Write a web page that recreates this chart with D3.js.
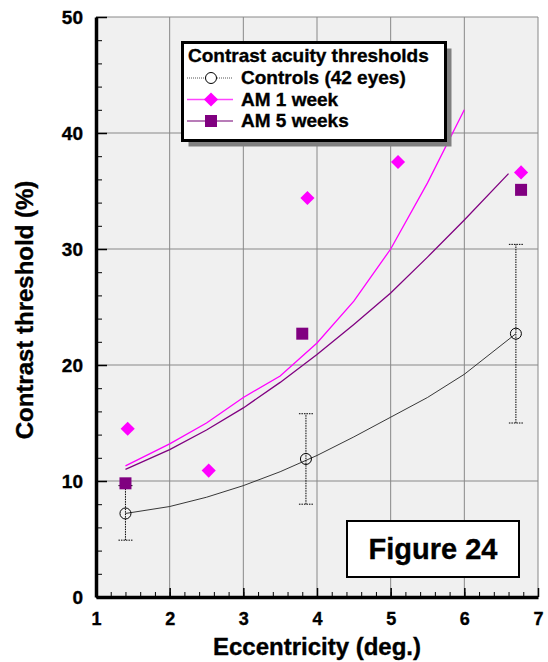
<!DOCTYPE html>
<html>
<head>
<meta charset="utf-8">
<script src="https://cdn.jsdelivr.net/npm/d3@7"></script>
<style>
body { margin: 0; background: #fff; }
text { font-family: "Liberation Sans", Arial, sans-serif; font-weight: bold; stroke: #000; stroke-width: 0.35px; }
</style>
</head>
<body>
<svg width="548" height="662"></svg>
<script>
// measured points
var ctrlX = [1.4, 3.85, 6.7];
var ctrlY = [7.2, 11.9, 22.7];
var ctrlLo = [4.9, 8.0, 15.0];
var ctrlHi = [9.6, 15.8, 30.4];

var am1X = [1.43, 2.53, 3.87, 5.1, 6.77];
var am1Y = [14.5, 10.9, 34.4, 37.5, 36.6];

var am5X = [1.4, 3.8, 6.77];
var am5Y = [9.8, 22.7, 35.1];

// fitted curves
var ctrlFitX = [1.4, 2, 2.5, 3, 3.5, 4, 4.5, 5, 5.5, 6, 6.7];
var ctrlFitY = [7.2, 7.8, 8.6, 9.6, 10.8, 12.2, 13.8, 15.5, 17.2, 19.2, 22.7];
var am1FitX = [1.4, 2, 2.5, 3, 3.5, 4, 4.5, 5, 5.5, 6];
var am1FitY = [11.3, 13.2, 15.0, 17.2, 19.05, 21.9, 25.5, 30.0, 35.7, 42.0];
var am5FitX = [1.4, 2, 2.5, 3, 3.5, 4, 4.5, 5, 5.5, 6, 6.6];
var am5FitY = [11.0, 12.7, 14.4, 16.3, 18.5, 20.9, 23.5, 26.2, 29.3, 32.5, 36.5];

var legendNames = ["Controls (42 eyes)", "AM 1 week", "AM 5 weeks"];

var svg = d3.select("svg");
var x = d3.scaleLinear().domain([1, 7]).range([96, 538]);
var y = d3.scaleLinear().domain([0, 50]).range([597, 17]);

// plot background
svg.append("rect")
  .attr("x", x(1)).attr("y", y(50))
  .attr("width", x(7) - x(1)).attr("height", y(0) - y(50))
  .attr("fill", "#f0f0f0");

// grid
svg.append("g").selectAll("line")
  .data(d3.range(2, 8))
  .enter().append("line")
  .attr("x1", function(d){ return x(d); })
  .attr("x2", function(d){ return x(d); })
  .attr("y1", y(0)).attr("y2", y(50))
  .attr("stroke", "#888").attr("stroke-width", 1);
svg.append("g").selectAll("line")
  .data(d3.range(10, 60, 10))
  .enter().append("line")
  .attr("y1", function(d){ return y(d); })
  .attr("y2", function(d){ return y(d); })
  .attr("x1", x(1)).attr("x2", x(7))
  .attr("stroke", "#888").attr("stroke-width", 1);

// minor ticks
svg.append("g")
  .attr("transform", "translate(0," + y(0) + ")")
  .call(d3.axisBottom(x).tickValues(d3.range(1, 7.01, 0.2)).tickSize(-5).tickFormat(""))
  .call(function(g){ g.select(".domain").remove(); });
svg.append("g")
  .attr("transform", "translate(" + x(1) + ",0)")
  .call(d3.axisLeft(y).tickValues(d3.range(0, 51, 2)).tickSize(-6).tickFormat(""))
  .call(function(g){ g.select(".domain").remove(); });

// major axes
var xAxis = svg.append("g")
  .attr("transform", "translate(0," + y(0) + ")")
  .call(d3.axisBottom(x).tickValues(d3.range(1, 8)).tickSizeInner(-9).tickSizeOuter(0).tickPadding(15).tickFormat(d3.format("d")));
var yAxis = svg.append("g")
  .attr("transform", "translate(" + x(1) + ",0)")
  .call(d3.axisLeft(y).tickValues(d3.range(0, 51, 10)).tickSizeInner(-11).tickSizeOuter(0).tickPadding(13).tickFormat(d3.format("d")));
[xAxis, yAxis].forEach(function(g){
  g.select(".domain").attr("stroke-width", 3.5);
  g.selectAll(".tick line").attr("stroke-width", 1.5);
  g.selectAll("text").attr("font-size", 18).attr("fill", "#000")
    .style("font-family", "'Liberation Sans', Arial, sans-serif").style("font-weight", "bold");
});
yAxis.selectAll("text").attr("font-size", 19);

// axis titles
svg.append("text")
  .attr("x", 317).attr("y", 655)
  .attr("text-anchor", "middle").attr("font-size", 24)
  .text("Eccentricity (deg.)");
svg.append("text")
  .attr("transform", "translate(33,310) rotate(-90)")
  .attr("text-anchor", "middle").attr("font-size", 24)
  .text("Contrast threshold (%)");

// fitted lines
var line = d3.line()
  .x(function(d){ return x(d[0]); })
  .y(function(d){ return y(d[1]); });
svg.append("path").datum(d3.zip(ctrlFitX, ctrlFitY))
  .attr("d", line).attr("fill", "none").attr("stroke", "#222").attr("stroke-width", 0.9);
svg.append("path").datum(d3.zip(am1FitX, am1FitY))
  .attr("d", line).attr("fill", "none").attr("stroke", "#ff00ff").attr("stroke-width", 1.3);
svg.append("path").datum(d3.zip(am5FitX, am5FitY))
  .attr("d", line).attr("fill", "none").attr("stroke", "#800080").attr("stroke-width", 1.3);

// error bars
var err = svg.append("g").attr("stroke", "#000").attr("stroke-width", 1).attr("stroke-dasharray", "1.5,1");
ctrlX.forEach(function(cx, i){
  err.append("line").attr("x1", x(cx)).attr("x2", x(cx)).attr("y1", y(ctrlLo[i])).attr("y2", y(ctrlHi[i]));
  err.append("line").attr("x1", x(cx) - 7).attr("x2", x(cx) + 7).attr("y1", y(ctrlLo[i])).attr("y2", y(ctrlLo[i]));
  err.append("line").attr("x1", x(cx) - 7).attr("x2", x(cx) + 7).attr("y1", y(ctrlHi[i])).attr("y2", y(ctrlHi[i]));
});

// markers
var diamond = d3.symbol().type(d3.symbolSquare).size(100);
var square = d3.symbol().type(d3.symbolSquare).size(144);

svg.append("g").selectAll("path")
  .data(d3.zip(am5X, am5Y))
  .enter().append("path")
  .attr("d", square)
  .attr("transform", function(d){ return "translate(" + x(d[0]) + "," + y(d[1]) + ")"; })
  .attr("fill", "#800080");

svg.append("g").selectAll("path")
  .data(d3.zip(am1X, am1Y))
  .enter().append("path")
  .attr("d", diamond)
  .attr("transform", function(d){ return "translate(" + x(d[0]) + "," + y(d[1]) + ") rotate(45)"; })
  .attr("fill", "#ff00ff");

svg.append("g").selectAll("circle")
  .data(d3.zip(ctrlX, ctrlY))
  .enter().append("circle")
  .attr("cx", function(d){ return x(d[0]); })
  .attr("cy", function(d){ return y(d[1]); })
  .attr("r", 5.5)
  .attr("fill", "none").attr("stroke", "#000").attr("stroke-width", 1);

// legend
var lg = svg.append("g");
lg.append("rect").attr("x", 188.5).attr("y", 48.5).attr("width", 263).attr("height", 98).attr("fill", "#808080");
lg.append("rect").attr("x", 182.5).attr("y", 42.5).attr("width", 263).attr("height", 98)
  .attr("fill", "#fff").attr("stroke", "#000").attr("stroke-width", 3);
lg.append("text").attr("x", 188).attr("y", 62).attr("font-size", 19).text("Contrast acuity thresholds");

var rowY = [78, 99.5, 121];
var rowColor = ["#555", "#ff44ff", "#a050a0"];
legendNames.forEach(function(name, i){
  lg.append("line").attr("x1", 187).attr("x2", 233).attr("y1", rowY[i]).attr("y2", rowY[i])
    .attr("stroke", rowColor[i]).attr("stroke-width", i === 0 ? 1 : 1.5)
    .attr("stroke-dasharray", i === 0 ? "1,1" : null);
  lg.append("text").attr("x", 241).attr("y", rowY[i] + 6).attr("font-size", 19).text(name);
});
lg.append("circle").attr("cx", 211).attr("cy", rowY[0]).attr("r", 5.5)
  .attr("fill", "#fff").attr("stroke", "#000");
lg.append("path").attr("d", diamond)
  .attr("transform", "translate(211," + rowY[1] + ") rotate(45)").attr("fill", "#ff00ff");
lg.append("path").attr("d", square)
  .attr("transform", "translate(211," + rowY[2] + ")").attr("fill", "#800080");

// figure label
svg.append("rect").attr("x", 347).attr("y", 521).attr("width", 172).attr("height", 56)
  .attr("fill", "#fff").attr("stroke", "#000").attr("stroke-width", 2);
svg.append("text").attr("x", 433).attr("y", 559).attr("text-anchor", "middle")
  .attr("font-size", 29).text("Figure 24");
</script>
</body>
</html>
